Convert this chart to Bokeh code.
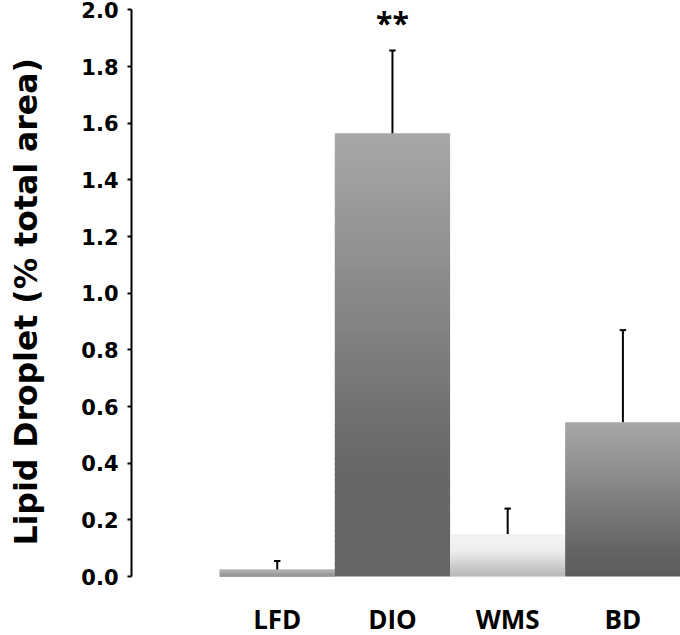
import numpy as np
from bokeh.plotting import figure
from bokeh.models import Range1d, FixedTicker, NumeralTickFormatter, Title
from bokeh.core.properties import value
from bokeh.embed import file_html
from bokeh.resources import INLINE

# ---- data ----
groups = ["LFD", "DIO", "WMS", "BD"]
means = [0.025, 1.565, 0.15, 0.545]
sems = [0.03, 0.292, 0.09, 0.325]
significance = ["", "**", "", ""]
y_ticks = [0.0, 0.2, 0.4, 0.6, 0.8, 1.0, 1.2, 1.4, 1.6, 1.8, 2.0]
y_title = "Lipid Droplet (% total area)"

# ---- style: vertical gradient stops (fraction of bar height, grey level) ----
grad_stops = [
    [(0.0, 0x7a), (1.0, 0xaa)],
    [(0.0, 0x66), (0.25, 0x67), (1.0, 0xa8)],
    [(0.0, 0xb0), (0.6, 0xec), (1.0, 0xf2)],
    [(0.0, 0x5e), (0.15, 0x62), (1.0, 0xa8)],
]
N_STRIPS = 80
FONT_X = "Open Sans"
FONT_Y = "DejaVu Sans"

xs = list(range(len(groups)))

p = figure(width=680, height=635, output_backend="svg", toolbar_location=None,
           x_range=Range1d(-1.265, 3.5), y_range=Range1d(-0.208, 2.03),
           min_border_left=128, min_border_right=0, min_border_top=1,
           min_border_bottom=0)
p.outline_line_color = None
p.xgrid.visible = False
p.ygrid.visible = False
p.background_fill_color = "white"

# gradient bars built from strips
L, R, B, T, C = [], [], [], [], []
for x, m, stops in zip(xs, means, grad_stops):
    fs = [s[0] for s in stops]
    gs = [s[1] for s in stops]
    for i in range(N_STRIPS):
        f = (i + 0.5) / N_STRIPS
        g = int(round(np.interp(f, fs, gs)))
        L.append(x - 0.5)
        R.append(x + 0.5)
        B.append(m * i / N_STRIPS)
        T.append(min(m, m * (i + 1.6) / N_STRIPS))
        C.append("#%02x%02x%02x" % (g, g, g))
p.quad(left=L, right=R, bottom=B, top=T, fill_color=C, line_color=None)

# error bars (upper only)
tops = [m + s for m, s in zip(means, sems)]
p.segment(x0=xs, y0=means, x1=xs, y1=tops, line_color="black", line_width=2)
cap = 0.028
p.segment(x0=[x - cap for x in xs], y0=tops, x1=[x + cap for x in xs], y1=tops,
          line_color="black", line_width=2)

# significance markers
sx = [x for x, s in zip(xs, significance) if s]
sy = [t + 0.1 for t, s in zip(tops, significance) if s]
st = [s for s in significance if s]
p.text(x=sx, y=sy, text=st, text_align="center", text_baseline="alphabetic",
       text_font=value(FONT_X), text_font_style="bold", text_font_size="30px",
       text_color="black")

# category labels below the bars
p.text(x=xs, y=[-0.15] * len(xs), text=groups, text_align="center",
       text_baseline="middle", text_font=value(FONT_X),
       text_font_style="bold", text_font_size="26px", text_color="black")

# y axis
ya = p.yaxis[0]
ya.ticker = FixedTicker(ticks=y_ticks)
ya.formatter = NumeralTickFormatter(format="0.0")
ya.bounds = (0, 2.0)
ya.axis_line_width = 2
ya.axis_line_color = "black"
ya.major_tick_line_width = 2
ya.major_tick_out = 4
ya.major_tick_in = 0
ya.minor_tick_line_color = None
ya.major_label_standoff = 9
ya.major_label_text_font = FONT_Y
ya.major_label_text_font_style = "bold"
ya.major_label_text_font_size = "21px"
ya.major_label_text_color = "black"
# blank spacer label widens the axis panel so the title sits further left
ya.axis_label = " "
ya.axis_label_text_font_size = "1px"
ya.axis_label_standoff = 26

# y title as a left-side title, anchored from the bottom
p.add_layout(Title(text=y_title, align="left", offset=90, standoff=10,
                   text_font=FONT_Y, text_font_style="bold",
                   text_font_size="31.5px", text_color="black"), "left")

# x axis hidden (labels drawn as text above)
p.xaxis.visible = False

open("out.html", "w").write(file_html(p, INLINE))
